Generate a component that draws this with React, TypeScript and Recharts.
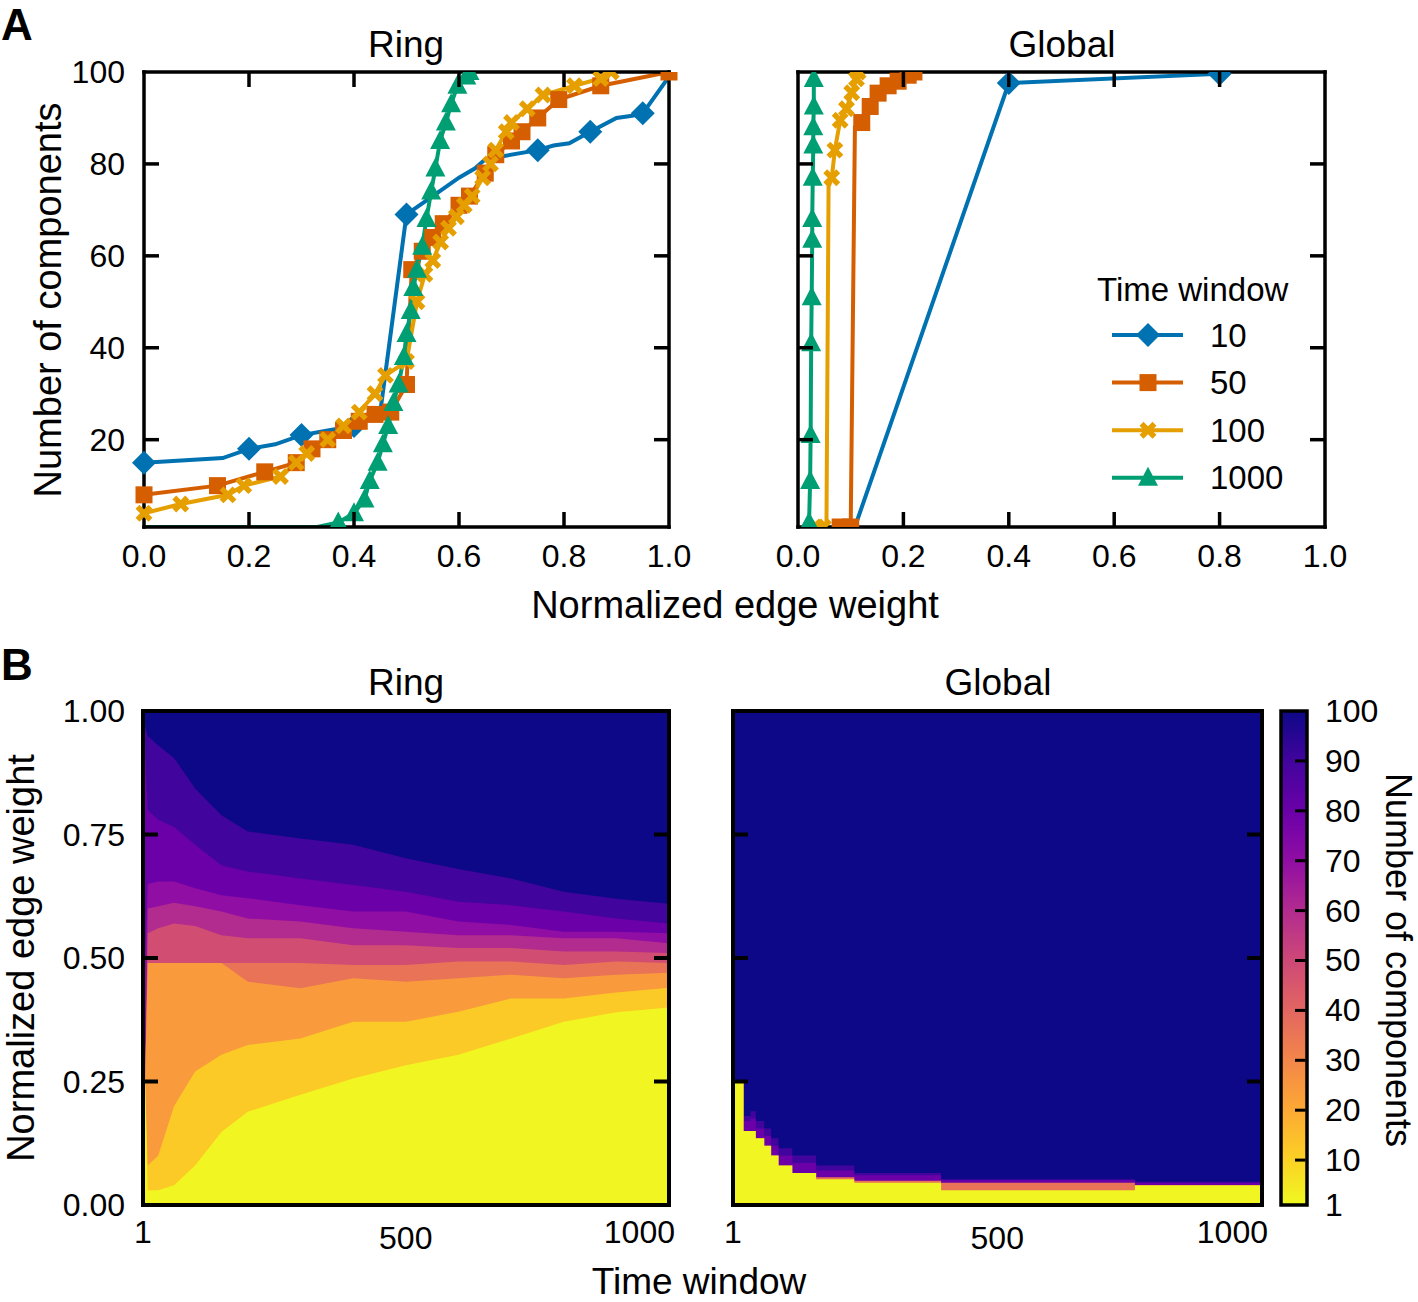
import {
  Area,
  CartesianGrid,
  ComposedChart,
  Legend,
  Line,
  LineChart,
  ReferenceArea,
  XAxis,
  YAxis,
} from "recharts";

const FONT = '"Liberation Sans", Arial, Helvetica, sans-serif';
const INK = "#000";

// ---------- panel A: components vs normalized edge weight ----------
const windows = ["10", "50", "100", "1000"];
const seriesColors = ["#0072b2", "#d55e00", "#e69f00", "#009e73"];
const seriesShapes = ["diamond", "square", "x", "triangle"];

// [edge weight, number of components, 0 = no marker]
const ring10 = [[0, 15], [0.15, 16, 0], [0.2, 18], [0.25, 19, 0], [0.3, 21], [0.35, 22, 0], [0.4, 23], [0.45, 26, 0], [0.5, 69], [0.55, 73, 0], [0.6, 77, 0], [0.63, 79, 0], [0.65, 81, 0], [0.75, 83], [0.78, 84, 0], [0.81, 84.5, 0], [0.85, 87], [0.9, 90, 0], [0.93, 90.5, 0], [0.95, 91], [1, 99, 0]];
const ring50 = [[0, 8], [0.14, 10], [0.23, 13], [0.29, 15], [0.32, 18], [0.35, 20], [0.38, 22], [0.41, 24], [0.44, 25.5], [0.47, 26], [0.5, 32], [0.51, 57], [0.53, 61], [0.55, 64], [0.57, 67], [0.6, 71], [0.62, 73], [0.65, 78], [0.67, 82], [0.7, 85], [0.72, 87], [0.75, 90], [0.79, 94], [0.87, 97], [1, 100]];
const ring100 = [[0, 4], [0.07, 6], [0.16, 8], [0.19, 10], [0.26, 12], [0.29, 15], [0.31, 17], [0.35, 20], [0.38, 23], [0.41, 26], [0.44, 30], [0.46, 34], [0.5, 37], [0.52, 50], [0.535, 56], [0.55, 59], [0.565, 63], [0.58, 66], [0.595, 68.5], [0.61, 71], [0.625, 73], [0.645, 77], [0.66, 80], [0.67, 83], [0.69, 87], [0.7, 89], [0.73, 92], [0.76, 95], [0.82, 97], [0.87, 98.6], [0.89, 100]];
const ring1000 = [[0, 1, 0], [0.33, 1, 0], [0.37, 2], [0.4, 4], [0.42, 7], [0.43, 11], [0.445, 15], [0.455, 19], [0.465, 23], [0.475, 28], [0.485, 32], [0.495, 38], [0.5, 43], [0.508, 48], [0.513, 53], [0.52, 57], [0.53, 62], [0.538, 68], [0.547, 74], [0.555, 79], [0.564, 85], [0.575, 89], [0.585, 93], [0.597, 97], [0.614, 99], [0.62, 100]];

const global10 = [[0.108, 1, 0], [0.4, 97.6], [0.8, 99.6]];
const global50 = [[0.08, 1], [0.1, 1], [0.108, 88, 0], [0.121, 89], [0.137, 92.5], [0.152, 95.4], [0.171, 97], [0.19, 98], [0.209, 99.3], [0.22, 100]];
const global100 = [[0.035, 1], [0.048, 1], [0.054, 1, 0], [0.058, 75, 0], [0.064, 77], [0.07, 83], [0.08, 89.5], [0.092, 92], [0.102, 95.5], [0.111, 98.5], [0.114, 100]];
const global1000 = [[0.021, 2], [0.023, 11], [0.024, 21], [0.025, 41], [0.026, 51], [0.027, 63.5], [0.027, 68], [0.028, 77], [0.029, 84], [0.029, 88], [0.03, 92.5], [0.03, 98.5]];

const weightTicks = [0, 0.2, 0.4, 0.6, 0.8, 1];
const countTicks = [20, 40, 60, 80, 100];

// ---------- panel B: heatmaps, edge weight where each colour level is reached ----------
const bandLevels = [2, 12, 24, 36, 48, 60, 70, 80, 90];

const ringT = [1, 5, 10, 30, 60, 100, 150, 200, 300, 400, 500, 600, 700, 800, 900, 1000];
const ringB2 = [0.25, 0.25, 0.03, 0.03, 0.04, 0.08, 0.148, 0.189, 0.223, 0.256, 0.283, 0.304, 0.337, 0.371, 0.39, 0.4];
const ringB12 = [0.25, 0.25, 0.08, 0.1, 0.2, 0.27, 0.304, 0.324, 0.337, 0.371, 0.371, 0.391, 0.418, 0.418, 0.43, 0.44];
const ringB24 = [0.25, 0.25, 0.49, 0.49, 0.49, 0.49, 0.49, 0.452, 0.439, 0.459, 0.452, 0.459, 0.466, 0.459, 0.466, 0.47];
const ringB36 = [0.25, 0.25, 0.49, 0.49, 0.49, 0.49, 0.49, 0.49, 0.49, 0.486, 0.486, 0.493, 0.493, 0.486, 0.493, 0.49];
const ringB48 = [0.25, 0.25, 0.55, 0.56, 0.57, 0.565, 0.546, 0.54, 0.54, 0.526, 0.526, 0.52, 0.52, 0.513, 0.513, 0.51];
const ringB60 = [0.25, 0.25, 0.6, 0.605, 0.612, 0.605, 0.594, 0.58, 0.574, 0.56, 0.553, 0.546, 0.546, 0.54, 0.54, 0.53];
const ringB70 = [0.49, 0.49, 0.65, 0.655, 0.655, 0.641, 0.627, 0.621, 0.607, 0.594, 0.594, 0.574, 0.567, 0.553, 0.553, 0.55];
const ringB80 = [0.93, 0.93, 0.8, 0.78, 0.765, 0.729, 0.688, 0.675, 0.661, 0.648, 0.634, 0.614, 0.607, 0.594, 0.58, 0.57];
const ringB90 = [0.97, 0.97, 0.95, 0.93, 0.905, 0.843, 0.789, 0.756, 0.742, 0.729, 0.702, 0.68, 0.661, 0.634, 0.62, 0.61];

const globalLevels = [2, 36, 80, 90];
const globalT = [1, 20, 21, 34, 44, 60, 73, 87, 113, 158, 230, 394, 746, 760, 1000];
const globalB2 = [0.25, 0.25, 0.15, 0.15, 0.135, 0.12, 0.1, 0.08, 0.065, 0.052, 0.045, 0.03, 0.03, 0.04, 0.04];
const globalB36 = [0.25, 0.25, 0.15, 0.15, 0.135, 0.12, 0.1, 0.08, 0.065, 0.056, 0.049, 0.045, 0.045, 0.04, 0.04];
const globalB80 = [0.25, 0.25, 0.17, 0.175, 0.155, 0.14, 0.12, 0.1, 0.085, 0.07, 0.06, 0.05, 0.05, 0.045, 0.045];
const globalB90 = [0.25, 0.25, 0.18, 0.19, 0.17, 0.155, 0.135, 0.115, 0.1, 0.08, 0.065, 0.052, 0.052, 0.047, 0.047];

const heatWeightTicks = [0, 0.25, 0.5, 0.75, 1];
const heatTimeTicks = [1, 500, 1000];
const colorbarTicks = [1, 10, 20, 30, 40, 50, 60, 70, 80, 90, 100];

// plasma colormap stops, 0 -> 1
const plasma = ["#0d0887", "#41049d", "#6a00a8", "#8f0da4", "#b12a90", "#cc4778", "#e16462", "#f2844b", "#fca636", "#fcce25", "#f0f921"];

function hexToRgb(h: string) {
  return [1, 3, 5].map((i) => parseInt(h.slice(i, i + 2), 16));
}

// 1 component = yellow end, 100 = dark end
function plasmaColor(v: number) {
  const s = Math.max(0, Math.min(1, 1 - (v - 1) / 99)) * 10;
  const i = Math.min(9, Math.floor(s));
  const f = s - i;
  const a = hexToRgb(plasma[i]);
  const b = hexToRgb(plasma[i + 1]);
  const c = a.map((x, k) => Math.round(x + (b[k] - x) * f));
  return `rgb(${c[0]},${c[1]},${c[2]})`;
}

const toPoints = (arr: number[][]) => arr.map(([w, n, m]) => ({ w, n, mark: m !== 0 }));

const buildBands = (ts: number[], bands: number[][]) =>
  ts.map((t, i) => {
    const row: Record<string, number> = { t };
    bands.forEach((b, k) => (row[`b${k}`] = b[i]));
    return row;
  });

const ringHeat = buildBands(ringT, [ringB2, ringB12, ringB24, ringB36, ringB48, ringB60, ringB70, ringB80, ringB90]);
const globalHeat = buildBands(globalT, [globalB2, globalB36, globalB80, globalB90]);
const colorbarData = [0, 1].map((x) => ({ x, top: colorbarTicks[colorbarTicks.length - 1] }));

function Marker({ shape, cx, cy, color }: { shape: string; cx: number; cy: number; color: string }) {
  if (shape === "diamond") {
    const r = 12;
    return <polygon points={`${cx},${cy - r} ${cx + r},${cy} ${cx},${cy + r} ${cx - r},${cy}`} fill={color} />;
  }
  if (shape === "square") {
    const s = 8.5;
    return <rect x={cx - s} y={cy - s} width={2 * s} height={2 * s} fill={color} />;
  }
  if (shape === "x") {
    const s = 6.5;
    return (
      <path
        d={`M${cx - s},${cy - s}L${cx + s},${cy + s}M${cx + s},${cy - s}L${cx - s},${cy + s}`}
        stroke={color}
        strokeWidth={5.5}
      />
    );
  }
  return <polygon points={`${cx},${cy - 11} ${cx + 10},${cy + 8} ${cx - 10},${cy + 8}`} fill={color} />;
}

const frame = (w: number) => ({ stroke: INK, strokeWidth: w, strokeLinecap: "square" as const });
const TICK = 15;

function CurvePanel({
  series,
  width,
  left,
  right,
  showYLabels,
  legend,
}: {
  series: number[][][];
  width: number;
  left: number;
  right: number;
  showYLabels: boolean;
  legend?: boolean;
}) {
  const pw = width - left - right - 70;
  const ph = 600 - 62 - 43 - 40;
  return (
    <LineChart width={width} height={600} margin={{ top: 62, right, bottom: 43, left }}>
      <XAxis
        dataKey="w"
        type="number"
        domain={[0, 1]}
        ticks={weightTicks}
        interval={0}
        height={30}
        tickSize={0}
        tickMargin={0}
        tickLine={false}
        axisLine={frame(3.5)}
        tick={(p: any) => {
          const v = p.payload.value;
          const inner = v > 0 && v < 1;
          return (
            <g>
              {inner && <line x1={p.x} x2={p.x} y1={p.y} y2={p.y - TICK} stroke={INK} strokeWidth={3.5} />}
              {inner && <line x1={p.x} x2={p.x} y1={p.y - ph} y2={p.y - ph + TICK} stroke={INK} strokeWidth={3.5} />}
              <text x={p.x} y={p.y + 40} textAnchor="middle" fontSize={32} fontFamily={FONT} fill={INK}>
                {v.toFixed(1)}
              </text>
            </g>
          );
        }}
      />
      <XAxis xAxisId="top" orientation="top" type="number" domain={[0, 1]} height={10} tick={false} tickLine={false} axisLine={frame(3.5)} />
      <YAxis
        type="number"
        domain={[1, 100]}
        allowDataOverflow
        ticks={countTicks}
        interval={0}
        width={60}
        tickSize={0}
        tickMargin={0}
        tickLine={false}
        axisLine={frame(3.5)}
        tick={(p: any) => {
          const v = p.payload.value;
          return (
            <g>
              {v < 100 && <line x1={p.x} x2={p.x + TICK} y1={p.y} y2={p.y} stroke={INK} strokeWidth={3.5} />}
              {v < 100 && <line x1={p.x + pw} x2={p.x + pw - TICK} y1={p.y} y2={p.y} stroke={INK} strokeWidth={3.5} />}
              {showYLabels && (
                <text x={p.x - 19} y={p.y} textAnchor="end" dominantBaseline="central" fontSize={32} fontFamily={FONT} fill={INK}>
                  {v}
                </text>
              )}
            </g>
          );
        }}
      />
      <YAxis yAxisId="r" orientation="right" type="number" domain={[1, 100]} width={10} tick={false} tickLine={false} axisLine={frame(3.5)} />
      {series.map((s, k) => (
        <Line
          key={windows[k]}
          data={toPoints(s)}
          dataKey="n"
          name={windows[k]}
          type="linear"
          stroke={seriesColors[k]}
          strokeWidth={4}
          activeDot={false}
          isAnimationActive={false}
          dot={(p: any) =>
            p.payload.mark ? (
              <Marker key={`d${k}-${p.index}`} shape={seriesShapes[k]} cx={p.cx} cy={p.cy} color={seriesColors[k]} />
            ) : (
              <g key={`d${k}-${p.index}`} />
            )
          }
        />
      ))}
      {legend && (
        <Legend
          layout="horizontal"
          verticalAlign="middle"
          align="center"
          wrapperStyle={{ left: 395, top: 268, width: 230, height: 240 }}
          content={() => (
            <svg width={230} height={240} style={{ fontFamily: FONT }}>
              <text x={2} y={33} fontSize={33} fill={INK}>
                Time window
              </text>
              {windows.map((name, k) => {
                const cy = 67 + k * 47.6;
                return (
                  <g key={name}>
                    <line x1={17} x2={88} y1={cy} y2={cy} stroke={seriesColors[k]} strokeWidth={4} />
                    <Marker shape={seriesShapes[k]} cx={53} cy={cy} color={seriesColors[k]} />
                    <text x={115} y={cy} dominantBaseline="central" fontSize={33} fill={INK}>
                      {name}
                    </text>
                  </g>
                );
              })}
            </svg>
          )}
        />
      )}
    </LineChart>
  );
}

function HeatPanel({
  data,
  levels,
  curve,
  width,
  left,
  right,
  showYLabels,
}: {
  data: Record<string, number>[];
  levels: number[];
  curve: "linear" | "stepAfter";
  width: number;
  left: number;
  right: number;
  showYLabels: boolean;
}) {
  const pw = width - left - right - 70;
  const order = levels.map((_, i) => i).reverse();
  return (
    <ComposedChart width={width} height={662} data={data} margin={{ top: 61, right, bottom: 67, left }}>
      <CartesianGrid fill={plasmaColor(100)} fillOpacity={1} horizontal={false} vertical={false} />
      {order.map((i) => (
        <Area
          key={i}
          dataKey={`b${i}`}
          type={curve}
          fill={plasmaColor(levels[i])}
          fillOpacity={1}
          stroke="none"
          dot={false}
          activeDot={false}
          isAnimationActive={false}
        />
      ))}
      <XAxis
        dataKey="t"
        type="number"
        domain={[1, 1000]}
        ticks={heatTimeTicks}
        interval={0}
        height={30}
        tickSize={0}
        tickMargin={0}
        tickLine={false}
        axisLine={frame(4)}
        tick={(p: any) => {
          const v = p.payload.value;
          const last = v === 1000;
          return (
            <text
              x={last ? p.x + 6 : p.x}
              y={p.y + (v === 500 ? 44 : 38)}
              textAnchor={last ? "end" : "middle"}
              fontSize={32}
              fontFamily={FONT}
              fill={INK}
            >
              {v}
            </text>
          );
        }}
      />
      <XAxis xAxisId="top" orientation="top" type="number" domain={[1, 1000]} height={10} tick={false} tickLine={false} axisLine={frame(4)} />
      <YAxis
        type="number"
        domain={[0, 1]}
        ticks={heatWeightTicks}
        interval={0}
        width={60}
        tickSize={0}
        tickMargin={0}
        tickLine={false}
        axisLine={frame(4)}
        tick={(p: any) => {
          const v = p.payload.value;
          const inner = v > 0 && v < 1;
          return (
            <g>
              {inner && <line x1={p.x} x2={p.x + TICK} y1={p.y} y2={p.y} stroke={INK} strokeWidth={4} />}
              {inner && <line x1={p.x + pw} x2={p.x + pw - TICK} y1={p.y} y2={p.y} stroke={INK} strokeWidth={4} />}
              {showYLabels && (
                <text x={p.x - 18} y={p.y} textAnchor="end" dominantBaseline="central" fontSize={32} fontFamily={FONT} fill={INK}>
                  {v.toFixed(2)}
                </text>
              )}
            </g>
          );
        }}
      />
      <YAxis yAxisId="r" orientation="right" type="number" domain={[0, 1]} width={10} tick={false} tickLine={false} axisLine={frame(4)} />
    </ComposedChart>
  );
}

function Colorbar() {
  return (
    <ComposedChart width={158} height={662} data={colorbarData} margin={{ top: 71, right: 71, bottom: 97, left: 21 }}>
      <defs>
        <linearGradient id="cbGrad" x1="0" y1="0" x2="0" y2="1">
          {plasma.map((c, i) => (
            <stop key={c} offset={`${i * 10}%`} stopColor={c} />
          ))}
        </linearGradient>
      </defs>
      <XAxis type="number" dataKey="x" domain={[0, 1]} hide />
      <YAxis
        orientation="right"
        type="number"
        domain={[1, 100]}
        allowDataOverflow
        ticks={colorbarTicks}
        interval={0}
        width={40}
        tickSize={0}
        tickMargin={0}
        tickLine={false}
        axisLine={false}
        tick={(p: any) => {
          const v = p.payload.value;
          return (
            <g>
              {v > 1 && v < 100 && <line x1={p.x - 1.5} x2={p.x - 12} y1={p.y} y2={p.y} stroke={INK} strokeWidth={3} />}
              <text x={p.x + 18} y={p.y} dominantBaseline="central" fontSize={32} fontFamily={FONT} fill={INK}>
                {v}
              </text>
            </g>
          );
        }}
      />
      <Area
        dataKey="top"
        type="linear"
        baseValue={1}
        fill="url(#cbGrad)"
        fillOpacity={1}
        stroke="none"
        dot={false}
        activeDot={false}
        isAnimationActive={false}
      />
      <ReferenceArea x1={0} x2={1} y1={1} y2={100} fill="none" stroke={INK} strokeWidth={3.5} ifOverflow="visible" />
    </ComposedChart>
  );
}

export default function App() {
  const txt = { fontFamily: FONT, fill: INK };
  return (
    <div style={{ position: "absolute", left: 0, top: 0, width: 1418, height: 1302, background: "#fff" }}>
      <div style={{ position: "absolute", left: 0, top: 0 }}>
        <CurvePanel series={[ring10, ring50, ring100, ring1000]} width={700} left={84} right={21} showYLabels />
      </div>
      <div style={{ position: "absolute", left: 700, top: 0 }}>
        <CurvePanel
          series={[global10, global50, global100, global1000]}
          width={718}
          left={38}
          right={83}
          showYLabels={false}
          legend
        />
      </div>
      <div style={{ position: "absolute", left: 0, top: 640 }}>
        <HeatPanel data={ringHeat} levels={bandLevels} curve="linear" width={700} left={83} right={21} showYLabels />
      </div>
      <div style={{ position: "absolute", left: 670, top: 640 }}>
        <HeatPanel data={globalHeat} levels={globalLevels} curve="stepAfter" width={610} left={3} right={8} showYLabels={false} />
      </div>
      <div style={{ position: "absolute", left: 1260, top: 640 }}>
        <Colorbar />
      </div>
      <svg width={1418} height={1302} style={{ position: "absolute", left: 0, top: 0, pointerEvents: "none" }}>
        <text x={1} y={40} fontSize={44} fontWeight="bold" {...txt}>A</text>
        <text x={1} y={680} fontSize={44} fontWeight="bold" {...txt}>B</text>
        <text x={406} y={57} textAnchor="middle" fontSize={37} {...txt}>Ring</text>
        <text x={1062} y={57} textAnchor="middle" fontSize={37} {...txt}>Global</text>
        <text x={735} y={618} textAnchor="middle" fontSize={38} {...txt}>Normalized edge weight</text>
        <text transform="translate(48,300) rotate(-90)" textAnchor="middle" dominantBaseline="central" fontSize={38} {...txt}>
          Number of components
        </text>
        <text x={406} y={695} textAnchor="middle" fontSize={37} {...txt}>Ring</text>
        <text x={998} y={695} textAnchor="middle" fontSize={37} {...txt}>Global</text>
        <text transform="translate(21,958) rotate(-90)" textAnchor="middle" dominantBaseline="central" fontSize={38} {...txt}>
          Normalized edge weight
        </text>
        <text x={699} y={1294} textAnchor="middle" fontSize={37} {...txt}>Time window</text>
        <text transform="translate(1398,960) rotate(90)" textAnchor="middle" dominantBaseline="central" fontSize={36} {...txt}>
          Number of components
        </text>
      </svg>
    </div>
  );
}
